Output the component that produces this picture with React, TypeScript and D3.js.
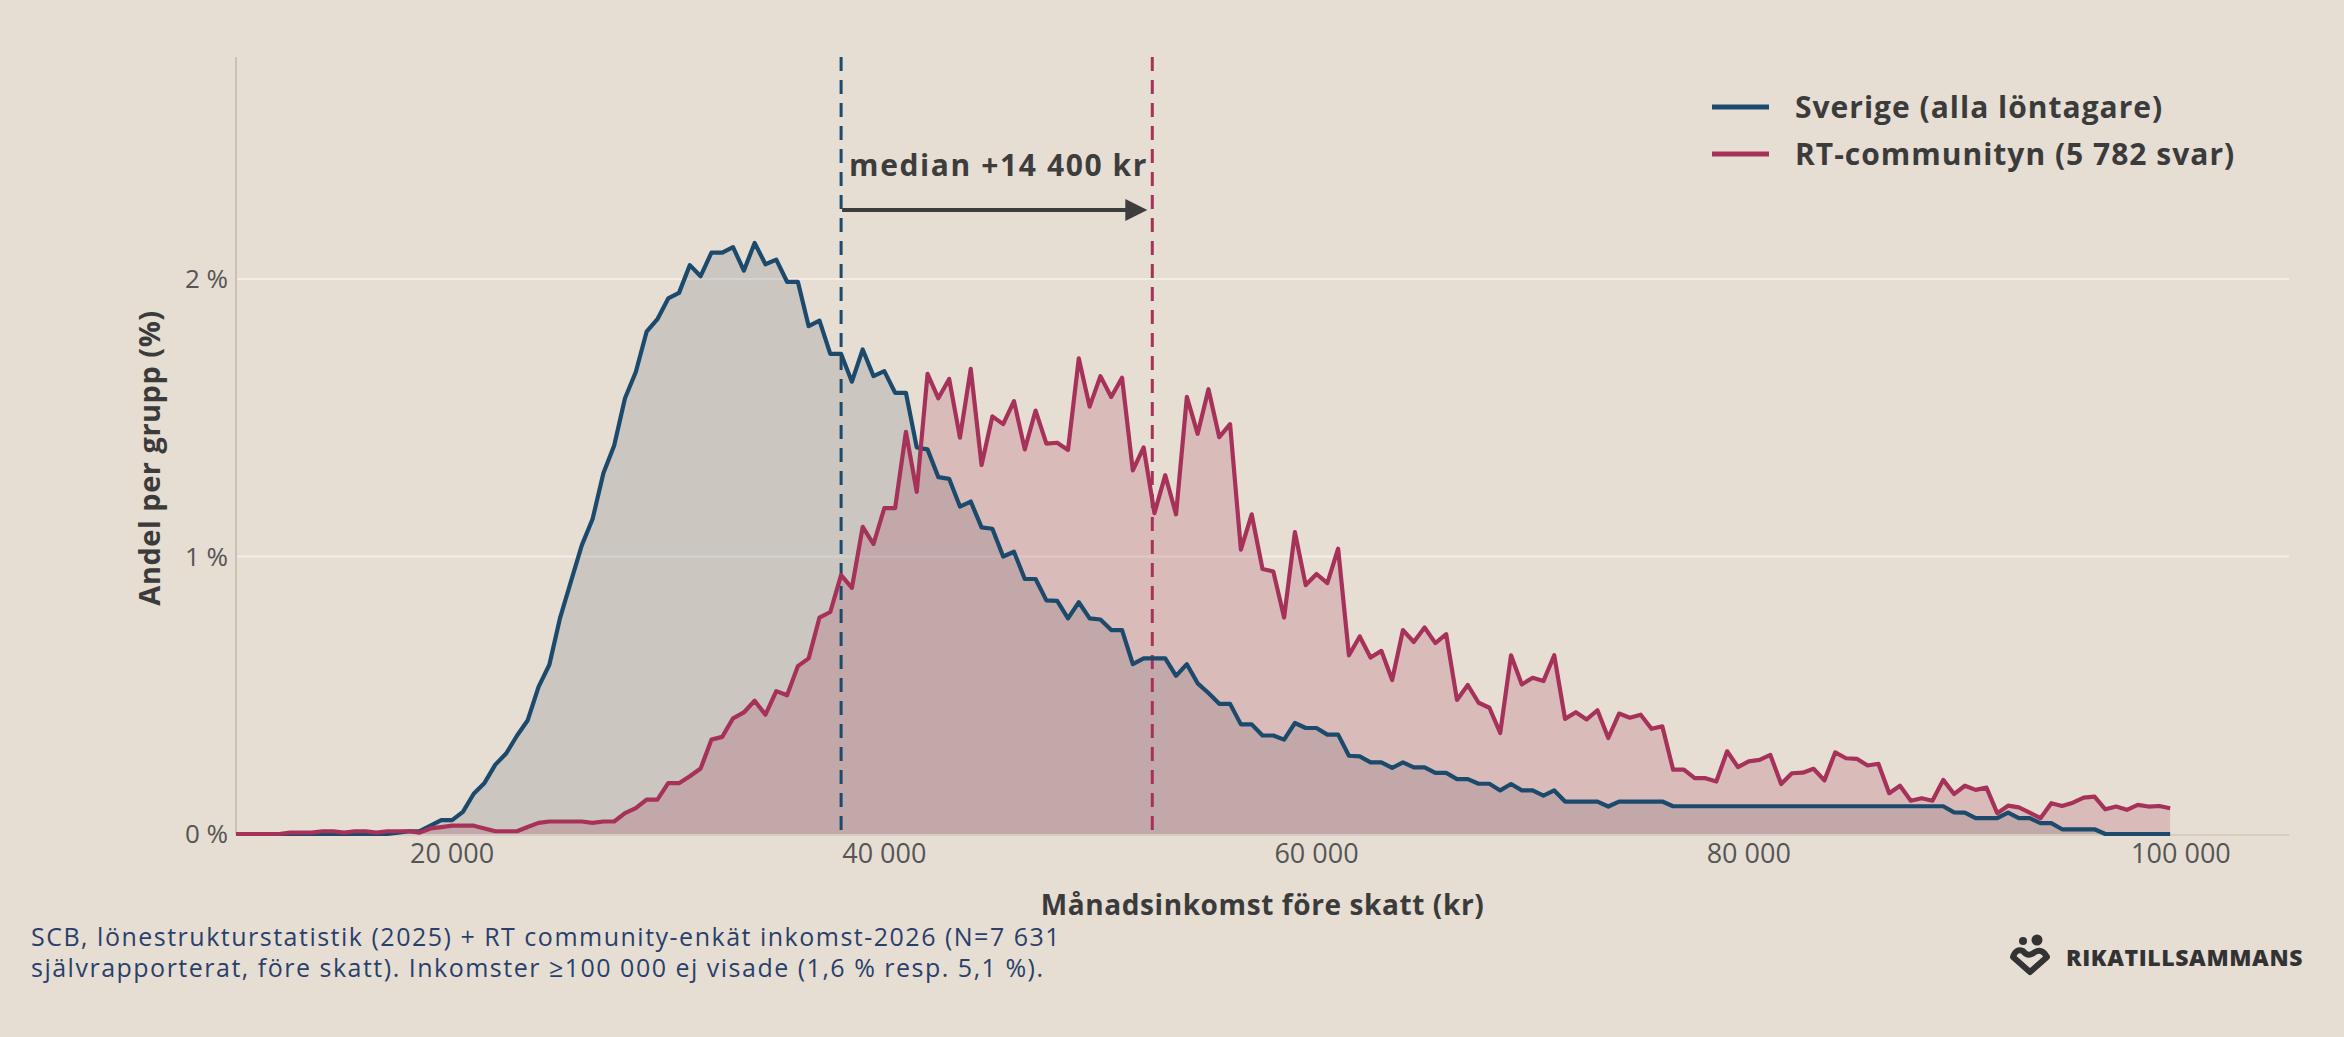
import React from 'react';
import * as d3 from 'd3';

// Income bins: 10 000 .. 99 500 kr, 500 kr wide
const BIN_START = 10000;
const BIN_WIDTH = 500;

// Share per group (%) for each 500 kr bin
const sverige = [
  0, 0, 0, 0, 0, 0, 0, 0, 0, 0,
  0, 0, 0, 0, 0, 0.005, 0.01, 0.01, 0.03, 0.05,
  0.05, 0.08, 0.145, 0.184, 0.25, 0.29, 0.354, 0.41, 0.53, 0.61,
  0.78, 0.91, 1.04, 1.135, 1.3, 1.4, 1.57, 1.665, 1.81, 1.855,
  1.93, 1.95, 2.05, 2.01, 2.095, 2.095, 2.115, 2.03, 2.13, 2.053,
  2.07, 1.99, 1.99, 1.83, 1.85, 1.73, 1.73, 1.63, 1.746, 1.65,
  1.668, 1.59, 1.59, 1.393, 1.386, 1.286, 1.28, 1.18, 1.198, 1.105,
  1.1, 1.0, 1.017, 0.919, 0.919, 0.842, 0.84, 0.777, 0.835, 0.777,
  0.773, 0.735, 0.735, 0.612, 0.633, 0.633, 0.633, 0.57, 0.612, 0.543,
  0.508, 0.469, 0.469, 0.395, 0.395, 0.355, 0.355, 0.34, 0.4, 0.382,
  0.382, 0.358, 0.358, 0.282, 0.28, 0.258, 0.258, 0.238, 0.258, 0.24,
  0.24, 0.22, 0.22, 0.198, 0.198, 0.181, 0.181, 0.157, 0.18, 0.157,
  0.157, 0.138, 0.157, 0.117, 0.117, 0.117, 0.117, 0.099, 0.117, 0.117,
  0.117, 0.117, 0.117, 0.1, 0.1, 0.1, 0.1, 0.1, 0.1, 0.1,
  0.1, 0.1, 0.1, 0.1, 0.1, 0.1, 0.1, 0.1, 0.1, 0.1,
  0.1, 0.1, 0.1, 0.1, 0.1, 0.1, 0.1, 0.1, 0.1, 0.078,
  0.077, 0.057, 0.057, 0.057, 0.077, 0.057, 0.057, 0.039, 0.039, 0.017,
  0.017, 0.017, 0.017, 0, 0, 0, 0, 0, 0, 0
];

const rtCommunity = [
  0, 0, 0, 0, 0, 0.005, 0.005, 0.005, 0.01, 0.01,
  0.005, 0.01, 0.01, 0.005, 0.01, 0.01, 0.01, 0.005, 0.02, 0.025,
  0.03, 0.03, 0.03, 0.02, 0.01, 0.01, 0.01, 0.025, 0.04, 0.045,
  0.045, 0.045, 0.045, 0.04, 0.045, 0.045, 0.075, 0.093, 0.124, 0.124,
  0.183, 0.183, 0.208, 0.236, 0.34, 0.35, 0.417, 0.438, 0.48, 0.43,
  0.515, 0.5, 0.605, 0.633, 0.78, 0.8, 0.933, 0.887, 1.107, 1.045,
  1.174, 1.174, 1.449, 1.233, 1.658, 1.57, 1.64, 1.428, 1.676, 1.33,
  1.505, 1.477, 1.56, 1.386, 1.526, 1.407, 1.41, 1.384, 1.714, 1.54,
  1.65, 1.575, 1.644, 1.31, 1.393, 1.156, 1.293, 1.152, 1.575, 1.442,
  1.603, 1.43, 1.477, 1.025, 1.152, 0.955, 0.946, 0.78, 1.088, 0.897,
  0.937, 0.904, 1.028, 0.644, 0.712, 0.636, 0.66, 0.555, 0.735, 0.692,
  0.744, 0.688, 0.72, 0.483, 0.537, 0.473, 0.455, 0.364, 0.644, 0.539,
  0.563, 0.551, 0.644, 0.415, 0.439, 0.413, 0.446, 0.346, 0.434, 0.419,
  0.43, 0.379, 0.388, 0.232, 0.232, 0.201, 0.201, 0.189, 0.298, 0.241,
  0.262, 0.267, 0.285, 0.18, 0.219, 0.221, 0.235, 0.193, 0.294, 0.273,
  0.271, 0.247, 0.253, 0.147, 0.174, 0.12, 0.129, 0.12, 0.195, 0.144,
  0.174, 0.159, 0.167, 0.075, 0.102, 0.096, 0.077, 0.057, 0.111, 0.101,
  0.113, 0.131, 0.135, 0.089, 0.099, 0.087, 0.105, 0.099, 0.101, 0.093
];

const xTicks = [20000, 40000, 60000, 80000, 100000];
const yTicks = [0, 1, 2];

const medianSverige = 38000;
const medianRt = 52400;

const legendLabels = ['Sverige (alla löntagare)', 'RT-communityn (5 782 svar)'];
const sourceLines = [
  'SCB, lönestrukturstatistik (2025) + RT community-enkät inkomst-2026 (N=7 631',
  'självrapporterat, före skatt). Inkomster ≥100 000 ej visade (1,6 % resp. 5,1 %).'
];

const W = 2344;
const H = 1037;
const BG = '#E6DED3';
const BLUE = '#1C4A6C';
const RED = '#A6325A';
const TEXT = '#3b3b3b';
const FONT = '"Open Sans", "Noto Sans", sans-serif';

const App: React.FC = () => {
  const x = d3.scaleLinear().domain([10000, 105000]).range([236, 2289]);
  const y = d3.scaleLinear().domain([0, 2.8]).range([834, 57]);

  const income = (i: number) => BIN_START + i * BIN_WIDTH;

  const area = d3.area<number>()
    .x((_, i) => x(income(i)))
    .y0(y(0))
    .y1(d => y(d));

  const line = d3.line<number>()
    .x((_, i) => x(income(i)))
    .y(d => y(d));

  const fmt = (v: number) => d3.format(',')(v).replace(/,/g, ' ');

  const series = [
    { name: legendLabels[0], values: sverige, color: BLUE, fill: '#5E6B72' },
    { name: legendLabels[1], values: rtCommunity, color: RED, fill: RED }
  ];

  const xm1 = x(medianSverige);
  const xm2 = x(medianRt);
  const arrowY = 210;

  return (
    <div style={{ position: 'fixed', left: 0, top: 0 }}>
      <svg width={W} height={H} style={{ display: 'block', fontFamily: FONT }}>
        <rect width={W} height={H} fill={BG} />

        {/* grid */}
        {yTicks.filter(t => t > 0).map(t => (
          <line key={t} x1={x.range()[0]} x2={x.range()[1]} y1={y(t)} y2={y(t)}
            stroke="#F2EDE6" strokeWidth={2} />
        ))}

        {/* axes lines */}
        <line x1={236} x2={236} y1={y.range()[1]} y2={y(0)} stroke="#C9C1B6" strokeWidth={2} />
        <line x1={236} x2={x.range()[1]} y1={y(0) + 1} y2={y(0) + 1} stroke="#D5CDC2" strokeWidth={2} />

        {/* fills */}
        {series.map(s => (
          <path key={s.name + 'a'} d={area(s.values) || ''} fill={s.fill} fillOpacity={0.2} />
        ))}

        {/* median lines */}
        <line x1={xm1} x2={xm1} y1={y.range()[1]} y2={y(0)} stroke={BLUE} strokeWidth={3} strokeDasharray="14,9" />
        <line x1={xm2} x2={xm2} y1={y.range()[1]} y2={y(0)} stroke={RED} strokeWidth={3} strokeDasharray="14,9" />

        {/* lines */}
        {series.map(s => (
          <path key={s.name + 'l'} d={line(s.values) || ''} fill="none" stroke={s.color}
            strokeWidth={4.2} strokeLinejoin="round" />
        ))}

        {/* median annotation */}
        <text x={xm1 + 8} y={176} fontSize={30} fontWeight={700} letterSpacing={1.6} fill="#3d3d3d">median +14 400 kr</text>
        <line x1={xm1 + 1} x2={xm2 - 20} y1={arrowY} y2={arrowY} stroke="#3d3d3d" strokeWidth={4} />
        <polygon points={`${xm2 - 5},${arrowY} ${xm2 - 27},${arrowY - 11} ${xm2 - 27},${arrowY + 11}`} fill="#3d3d3d" />

        {/* x ticks */}
        {xTicks.map(t => (
          <text key={t} x={x(t)} y={863} textAnchor="middle" fontSize={27} fill="#555">{fmt(t)}</text>
        ))}
        {/* y ticks */}
        {yTicks.map(t => (
          <text key={t} x={228} y={y(t) + 9} textAnchor="end" fontSize={26} fill="#555">{`${t} %`}</text>
        ))}

        {/* axis titles */}
        <text x={(x.range()[0] + x.range()[1]) / 2} y={915} textAnchor="middle" fontSize={28}
          fontWeight={700} letterSpacing={0.6} fill={TEXT}>Månadsinkomst före skatt (kr)</text>
        <text transform={`translate(160, 458) rotate(-90)`} textAnchor="middle" fontSize={29}
          fontWeight={700} letterSpacing={0.5} fill={TEXT}>Andel per grupp (%)</text>

        {/* legend */}
        {series.map((s, i) => (
          <g key={s.name + 'lg'} transform={`translate(1712, ${107 + i * 47})`}>
            <line x1={0} x2={57} y1={0} y2={0} stroke={s.color} strokeWidth={5} />
            <text x={83} y={11} fontSize={30} fontWeight={700} letterSpacing={1} fill={TEXT}>{s.name}</text>
          </g>
        ))}

        {/* source */}
        {sourceLines.map((t, i) => (
          <text key={i} x={31} y={946 + i * 31} fontSize={25} letterSpacing={1.5} fill="#2A3F6C">{t}</text>
        ))}

        {/* logo */}
        <g fill="#333" stroke="#333">
          <circle cx={2023} cy={941} r={4} stroke="none" />
          <circle cx={2037} cy={940} r={5.5} stroke="none" />
          <path d="M2013,957 L2030,972 L2047,957 Q2042,948 2035,952 Q2028,958 2023,951 Q2016,948 2013,957 Z"
            fill="none" strokeWidth={6} strokeLinejoin="round" />
        </g>
        <text x={2066} y={966} fontSize={23} fontWeight={800} letterSpacing={0.6} fill="#333">RIKATILLSAMMANS</text>
      </svg>
    </div>
  );
};

export default App;
